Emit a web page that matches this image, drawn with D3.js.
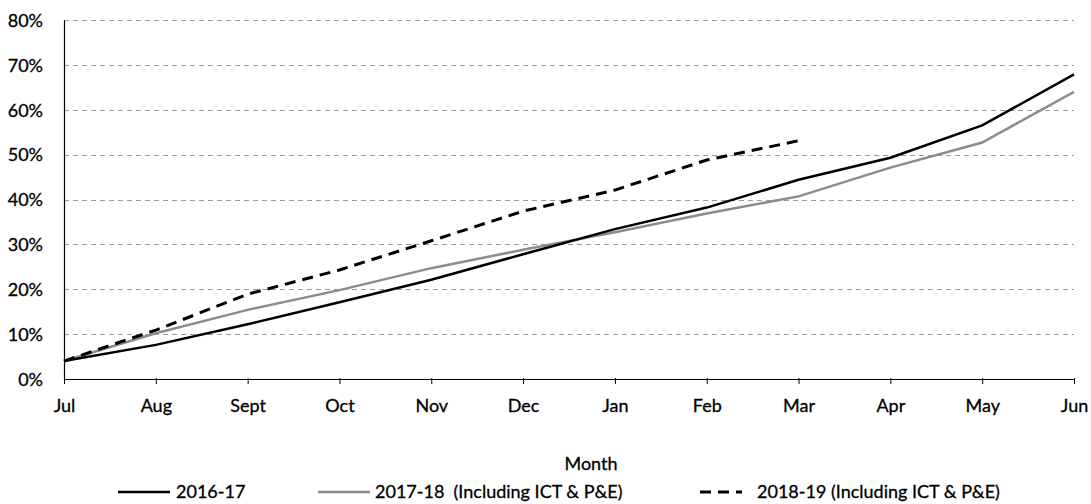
<!DOCTYPE html>
<html>
<head>
<meta charset="utf-8">
<script src="https://d3js.org/d3.v7.min.js"></script>
<style>
    html, body { margin: 0; padding: 0; background: #fff; overflow: hidden; }
    text { font-family: Lato, "Open Sans", sans-serif; fill: #000; stroke: #000; stroke-width: 0.3px; white-space: pre; }
</style>
</head>
<body>
<svg id="chart" width="1091" height="504"></svg>
<script>
var months = ["Jul", "Aug", "Sept", "Oct", "Nov", "Dec", "Jan", "Feb", "Mar", "Apr", "May", "Jun"];
var yTicks = [0, 0.1, 0.2, 0.3, 0.4, 0.5, 0.6, 0.7, 0.8];

var fy1617 = [0.04, 0.076, 0.122, 0.171, 0.221, 0.278, 0.334, 0.382, 0.444, 0.493, 0.565, 0.679];
var fy1718 = [0.04, 0.102, 0.154, 0.198, 0.247, 0.288, 0.327, 0.369, 0.407, 0.471, 0.527, 0.640];
var fy1819 = [0.04, 0.109, 0.189, 0.243, 0.308, 0.374, 0.421, 0.488, 0.531];

var seriesNames = ["2016-17", "2017-18  (Including ICT & P&E)", "2018-19 (Including ICT & P&E)"];

var svg = d3.select("#chart");
var margin = {left: 64, right: 17, top: 20, bottom: 125};
var width = 1091, height = 504;

var x = d3.scalePoint().domain(months).range([margin.left, width - margin.right]);
var y = d3.scaleLinear().domain([0, 0.8]).range([height - margin.bottom, margin.top]);

// gridlines
svg.append("g")
    .selectAll("line")
    .data(yTicks.slice(1))
    .enter().append("line")
    .attr("x1", margin.left)
    .attr("x2", width - margin.right)
    .attr("y1", function(d) { return Math.round(y(d)) + 0.5; })
    .attr("y2", function(d) { return Math.round(y(d)) + 0.5; })
    .attr("stroke", "#9a9a9a")
    .attr("stroke-width", 1)
    .attr("stroke-dasharray", "5,4");

// y axis
var yAxis = svg.append("g")
    .attr("transform", "translate(" + margin.left + ",0)")
    .call(d3.axisLeft(y).tickValues(yTicks).tickFormat(d3.format(".0%")).tickSize(0).tickPadding(21));
yAxis.select(".domain").attr("stroke", "#000").attr("stroke-width", 1.2);
yAxis.selectAll("text").style("font-size", "18px").attr("dy", "0.35em");

// x axis
var xAxis = svg.append("g")
    .attr("transform", "translate(0," + y(0) + ")")
    .call(d3.axisBottom(x).tickSize(6).tickSizeOuter(0).tickPadding(14));
xAxis.select(".domain").attr("stroke", "#000").attr("stroke-width", 1.2);
xAxis.selectAll(".tick line").attr("stroke", "#000").attr("transform", "translate(0,-1)");
xAxis.selectAll("text").style("font-size", "18px");

var line = d3.line()
    .x(function(d, i) { return x(months[i]); })
    .y(function(d) { return y(d); });

svg.append("path").datum(fy1718)
    .attr("d", line).attr("fill", "none")
    .attr("stroke", "#8c8c8c").attr("stroke-width", 2.5);

svg.append("path").datum(fy1617)
    .attr("d", line).attr("fill", "none")
    .attr("stroke", "#000").attr("stroke-width", 2.5);

svg.append("path").datum(fy1819)
    .attr("d", line).attr("fill", "none")
    .attr("stroke", "#000").attr("stroke-width", 3)
    .attr("stroke-dasharray", "11,7");

// axis title
svg.append("text")
    .attr("x", 591).attr("y", 470)
    .attr("text-anchor", "middle")
    .style("font-size", "18px")
    .text("Month");

// legend
var legendItems = [
    {name: seriesNames[0], x1: 118, x2: 170, color: "#000", dash: null, w: 2.5, tx: 176},
    {name: seriesNames[1], x1: 318, x2: 370, color: "#8c8c8c", dash: null, w: 2.5, tx: 375},
    {name: seriesNames[2], x1: 700, x2: 742, color: "#000", dash: "11,7", w: 3, tx: 757}
];
var legend = svg.append("g");
legendItems.forEach(function(d) {
    legend.append("line")
        .attr("x1", d.x1).attr("x2", d.x2)
        .attr("y1", 492).attr("y2", 492)
        .attr("stroke", d.color).attr("stroke-width", d.w)
        .attr("stroke-dasharray", d.dash);
    legend.append("text")
        .attr("x", d.tx).attr("y", 492)
        .attr("dy", "0.35em")
        .style("font-size", "18px")
        .text(d.name);
});
</script>
</body>
</html>
